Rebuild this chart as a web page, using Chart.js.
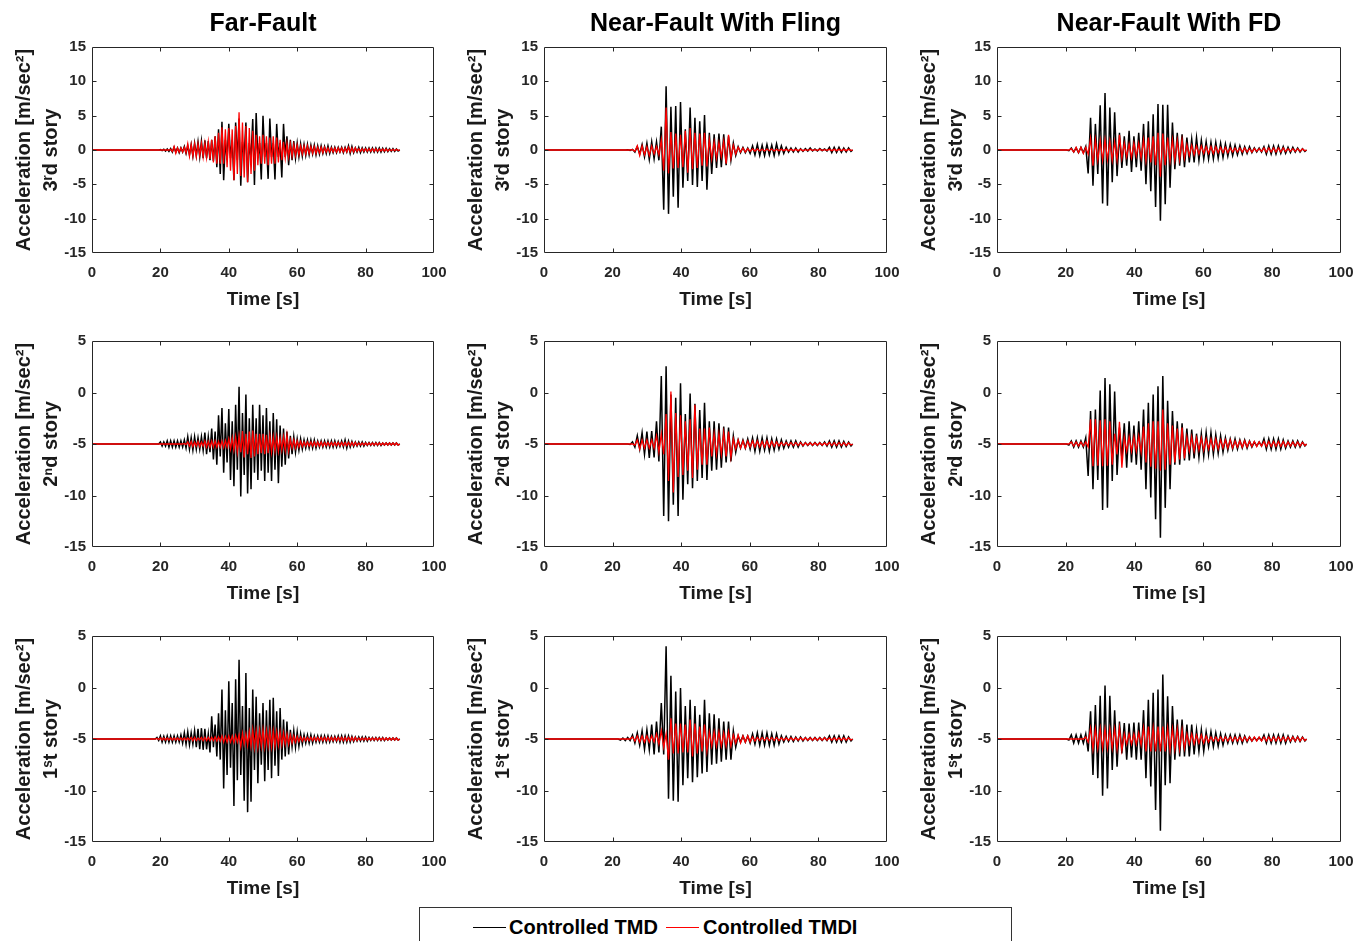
<!DOCTYPE html>
<html>
<head>
<meta charset="utf-8">
<title>Controlled TMD vs Controlled TMDI</title>
<script src="https://cdn.jsdelivr.net/npm/chart.js@4.4.1/dist/chart.umd.min.js"></script>
<style>
  html, body { margin: 0; padding: 0; background: #fff; }
  #page { position: relative; width: 1365px; height: 941px; overflow: hidden; background: #fff; }
  #page canvas { position: absolute; }
  #legend {
    position: absolute; left: 419px; top: 907px; width: 591px; height: 60px;
    border: 1px solid #333; background: #fff;
    font: bold 20px 'Liberation Sans', Arial, sans-serif; color: #000;
  }
  #legend .swatch { position: absolute; top: 19px; width: 33px; height: 0; border-top: 1px solid; }
  #legend .lbl { position: absolute; top: 7px; line-height: 24px; white-space: nowrap; }
</style>
</head>
<body>
<div id="page">
  <div id="legend">
    <span class="swatch" style="left:53px;border-color:#000"></span>
    <span class="lbl" style="left:89px">Controlled TMD</span>
    <span class="swatch" style="left:246px;border-color:#ff0000"></span>
    <span class="lbl" style="left:283px">Controlled TMDI</span>
  </div>
</div>
<script>
// time axes [s]
const farTime = [0,
  18,18.5,19,19.5,20,20.5,21,21.5,22,22.5,
  23,23.5,24,24.5,25,25.5,26,26.5,27,27.5,
  28,28.5,29,29.5,30,30.5,31,31.5,32,32.5,
  33,33.5,34,34.5,35,35.5,36,36.5,37,37.5,
  38,38.5,39,39.5,40,40.5,41,41.5,42,42.5,
  43,43.5,44,44.5,45,45.5,46,46.5,47,47.5,
  48,48.5,49,49.5,50,50.5,51,51.5,52,52.5,
  53,53.5,54,54.5,55,55.5,56,56.5,57,57.5,
  58,58.5,59,59.5,60,60.5,61,61.5,62,62.5,
  63,63.5,64,64.5,65,65.5,66,66.5,67,67.5,
  68,68.5,69,69.5,70,70.5,71,71.5,72,72.5,
  73,73.5,74,74.5,75,75.5,76,76.5,77,77.5,
  78,78.5,79,79.5,80,80.5,81,81.5,82,82.5,
  83,83.5,84,84.5,85,85.5,86,86.5,87,87.5,
  88,88.5,89,89.5,
  90];

const nearTime = [0,
  20.2,20.9,21.6,22.3,23.0,23.7,24.4,25.1,25.8,26.5,
  27.2,27.9,28.6,29.3,30.0,30.7,31.4,32.1,32.8,33.5,
  34.2,34.9,35.6,36.3,37.0,37.7,38.4,39.1,39.8,40.5,
  41.2,41.9,42.6,43.3,44.0,44.7,45.4,46.1,46.8,47.5,
  48.2,48.9,49.6,50.3,51.0,51.7,52.4,53.1,53.8,54.5,
  55.2,55.9,56.6,57.3,58.0,58.7,59.4,60.1,60.8,61.5,
  62.2,62.9,63.6,64.3,65.0,65.7,66.4,67.1,67.8,68.5,
  69.2,69.9,70.6,71.3,72.0,72.7,73.4,74.1,74.8,75.5,
  76.2,76.9,77.6,78.3,79.0,79.7,80.4,81.1,81.8,82.5,
  83.2,83.9,84.6,85.3,86.0,86.7,87.4,88.1,88.8,89.5,
  90];

// Far-Fault
const ff3Tmd = [0,
  0,0,0,0,0.05,-0.1,0.1,-0.15,0.15,-0.2,
  0.2,-0.3,0.4,-0.3,0.3,-0.4,0.3,-0.3,0.5,-0.5,
  0.6,-0.7,0.8,-0.9,1.0,-0.8,1.2,-1.0,1.3,-1.2,
  1.4,-1.2,1.3,-1.5,1.5,-1.6,2.0,-2.5,3.0,-3.5,
  4.1,-4.4,1.5,-1.5,3.8,-1.2,1.5,-4.4,4.0,-1.5,
  4.6,-5.2,1.2,-1.0,4.0,-4.7,1.0,-1.2,4.5,-5.1,
  5.4,-1.2,1.0,-4.3,5.0,-1.0,1.0,-4.2,4.6,-1.0,
  1.0,-4.3,3.8,-1.0,1.0,-4.0,3.8,-1.0,2.0,-2.2,
  1.5,-1.5,1.3,-1.2,1.0,-1.0,0.9,-0.9,0.8,-0.8,
  0.8,-0.7,0.7,-0.6,0.7,-0.7,0.6,-0.6,0.6,-0.5,
  0.5,-0.5,0.6,-0.5,0.4,-0.4,0.4,-0.4,0.4,-0.3,
  0.4,-0.4,0.4,-0.3,0.6,-0.5,0.5,-0.4,0.3,-0.3,
  0.4,-0.4,0.3,-0.3,0.3,-0.3,0.3,-0.3,0.3,-0.3,
  0.3,-0.3,0.3,-0.3,0.25,-0.25,0.25,-0.25,0.2,-0.2,
  0.2,-0.2,0.15,-0.15,
  0];
const ff3Tmdi = [0,
  0,0,0,0,0,0,0,0,0,0,
  0.1,-0.2,0.5,-0.5,0.3,-0.3,0.3,-0.3,0.4,-0.4,
  0.9,-0.9,0.8,-0.9,0.9,-1.0,0.9,-0.8,1.0,-1.0,
  1.0,-1.1,1.2,-1.3,1.5,-1.8,2.0,-2.0,2.5,-2.0,
  3.3,-2.0,3.0,-2.5,3.2,-3.0,3.0,-4.4,3.5,-3.5,
  5.5,-3.8,4.0,-4.0,3.5,-4.7,3.2,-3.5,2.8,-3.0,
  2.2,-2.2,2.0,-2.0,2.2,-2.0,2.0,-2.2,1.8,-2.0,
  2.0,-2.0,1.8,-1.8,1.5,-1.5,1.2,-1.2,1.0,-1.0,
  0.9,-0.9,0.8,-0.8,0.7,-0.7,0.6,-0.6,0.6,-0.6,
  0.6,-0.5,0.5,-0.5,0.5,-0.5,0.4,-0.4,0.4,-0.4,
  0.4,-0.3,0.3,-0.3,0.3,-0.3,0.3,-0.3,0.3,-0.3,
  0.3,-0.3,0.3,-0.3,0.4,-0.3,0.3,-0.3,0.3,-0.2,
  0.2,-0.2,0.2,-0.2,0.2,-0.2,0.2,-0.2,0.2,-0.2,
  0.2,-0.2,0.15,-0.15,0.15,-0.15,0.15,-0.15,0.1,-0.1,
  0.1,-0.1,0.1,-0.05,
  0];
const ff2Tmd = [-5,
  -5,-5,-5,-5,-4.8,-5.2,-4.8,-5.2,-4.7,-5.3,
  -4.7,-5.3,-4.7,-5.3,-4.7,-5.3,-4.7,-5.3,-4.6,-5.4,
  -4.3,-5.5,-4.4,-5.6,-4.3,-5.5,-4.4,-5.5,-4.3,-5.6,
  -3.9,-6.0,-4.3,-5.8,-3.5,-6.5,-3.8,-7.0,-2.2,-6.2,
  -1.5,-7.8,-3.0,-6.8,-1.6,-8.5,-2.8,-9.1,-1.2,-7.5,
  0.55,-10.1,-2.0,-8.0,-0.2,-9.8,-2.5,-9.4,-1.2,-7.8,
  -2.5,-8.5,-1.2,-7.6,-2.2,-8.6,-1.5,-7.8,-2.8,-8.6,
  -2.0,-7.5,-2.6,-8.8,-3.2,-7.2,-3.5,-7.0,-3.8,-6.4,
  -4.2,-6.0,-4.3,-5.8,-4.5,-5.6,-4.5,-5.5,-4.6,-5.4,
  -4.6,-5.4,-4.6,-5.4,-4.6,-5.4,-4.7,-5.3,-4.7,-5.3,
  -4.7,-5.3,-4.7,-5.3,-4.7,-5.3,-4.7,-5.3,-4.75,-5.25,
  -4.7,-5.3,-4.6,-5.4,-4.7,-5.3,-4.75,-5.25,-4.8,-5.2,
  -4.8,-5.2,-4.8,-5.2,-4.85,-5.15,-4.85,-5.15,-4.85,-5.15,
  -4.85,-5.15,-4.85,-5.15,-4.9,-5.1,-4.9,-5.1,-4.9,-5.1,
  -4.9,-5.1,-4.9,-5.1,
  -5];
const ff2Tmdi = [-5,
  -5,-5,-5,-5,-5,-5,-5,-5,-5,-5,
  -5,-5,-5,-5,-5,-5,-5,-5,-4.95,-5.05,
  -4.8,-5.2,-4.75,-5.25,-4.8,-5.2,-4.75,-5.25,-4.8,-5.2,
  -4.7,-5.3,-4.75,-5.3,-4.7,-5.3,-4.7,-5.3,-4.75,-5.3,
  -4.7,-5.35,-4.65,-5.3,-4.5,-5.5,-4.4,-5.6,-4.3,-5.8,
  -4.2,-5.8,-3.75,-6.3,-4.0,-6.0,-3.8,-6.35,-3.7,-6.2,
  -4.0,-6.0,-4.0,-5.9,-4.0,-6.0,-4.1,-5.9,-4.2,-5.8,
  -4.3,-5.7,-4.3,-5.7,-4.4,-5.6,-4.3,-5.6,-4.1,-5.7,
  -4.6,-5.4,-4.6,-5.4,-4.7,-5.3,-4.75,-5.25,-4.8,-5.2,
  -4.8,-5.2,-4.8,-5.2,-4.8,-5.2,-4.8,-5.2,-4.8,-5.2,
  -4.85,-5.15,-4.85,-5.15,-4.85,-5.15,-4.85,-5.15,-4.85,-5.15,
  -4.85,-5.15,-4.85,-5.15,-4.85,-5.15,-4.85,-5.15,-4.85,-5.15,
  -4.9,-5.1,-4.9,-5.1,-4.9,-5.1,-4.9,-5.1,-4.9,-5.1,
  -4.9,-5.1,-4.9,-5.1,-4.9,-5.1,-4.9,-5.1,-4.9,-5.1,
  -4.9,-5.1,-4.9,-5.1,
  -5];
const ff1Tmd = [-5,
  -5,-5,-4.85,-5.15,-4.7,-5.3,-4.75,-5.3,-4.7,-5.3,
  -4.7,-5.3,-4.7,-5.3,-4.7,-5.3,-4.6,-5.4,-4.4,-5.5,
  -4.3,-5.55,-4.4,-5.5,-4.2,-5.8,-4.0,-6.0,-3.95,-6.05,
  -4.0,-6.0,-4.5,-6.3,-2.8,-5.8,-3.6,-6.7,-2.5,-7.0,
  -0.2,-9.8,-2.2,-8.5,0.6,-7.8,-1.5,-11.5,0.8,-9.0,
  2.7,-8.5,-1.8,-11.0,1.4,-12.1,-2.0,-11.1,-0.2,-8.0,
  -0.9,-9.3,-2.5,-7.5,-1.5,-9.1,-2.2,-8.0,-1.2,-8.8,
  -1.0,-7.6,-2.3,-8.6,-2.0,-7.0,-3.1,-6.7,-3.3,-6.5,
  -4.1,-5.75,-4.2,-5.8,-4.3,-5.7,-4.5,-5.5,-4.6,-5.4,
  -4.6,-5.4,-4.6,-5.4,-4.7,-5.3,-4.7,-5.3,-4.7,-5.3,
  -4.7,-5.3,-4.7,-5.3,-4.75,-5.25,-4.75,-5.25,-4.7,-5.3,
  -4.7,-5.3,-4.7,-5.3,-4.7,-5.3,-4.75,-5.25,-4.8,-5.2,
  -4.8,-5.2,-4.8,-5.2,-4.8,-5.2,-4.85,-5.15,-4.85,-5.15,
  -4.85,-5.15,-4.85,-5.15,-4.85,-5.15,-4.9,-5.1,-4.9,-5.1,
  -4.9,-5.1,-4.9,-5.1,
  -5];
const ff1Tmdi = [-5,
  -5,-5,-4.95,-5.05,-4.9,-5.1,-4.9,-5.1,-4.9,-5.1,
  -4.9,-5.1,-4.9,-5.1,-4.9,-5.1,-4.9,-5.1,-4.9,-5.1,
  -4.9,-5.1,-4.85,-5.15,-4.85,-5.15,-4.9,-5.1,-4.85,-5.15,
  -4.85,-5.15,-4.85,-5.15,-4.85,-5.15,-4.8,-5.2,-4.8,-5.2,
  -4.7,-5.3,-4.75,-5.3,-4.7,-5.3,-4.7,-5.35,-4.65,-5.3,
  -4.6,-5.75,-4.45,-5.5,-4.5,-5.6,-4.3,-5.7,-4.1,-5.8,
  -4.2,-5.8,-4.15,-5.7,-4.1,-5.75,-4.2,-5.7,-4.15,-5.75,
  -4.2,-5.7,-4.3,-5.6,-4.3,-5.6,-4.4,-5.5,-4.5,-5.5,
  -4.6,-5.4,-4.7,-5.3,-4.75,-5.25,-4.8,-5.2,-4.85,-5.15,
  -4.85,-5.15,-4.85,-5.15,-4.85,-5.15,-4.85,-5.15,-4.85,-5.15,
  -4.85,-5.15,-4.85,-5.15,-4.85,-5.15,-4.85,-5.15,-4.85,-5.15,
  -4.85,-5.15,-4.85,-5.15,-4.85,-5.15,-4.85,-5.15,-4.85,-5.15,
  -4.9,-5.1,-4.9,-5.1,-4.9,-5.1,-4.9,-5.1,-4.9,-5.1,
  -4.9,-5.1,-4.9,-5.1,-4.9,-5.1,-4.9,-5.1,-4.9,-5.1,
  -4.9,-5.1,-4.9,-5.1,
  -5];

// Near-Fault With Fling
const fl3Tmd = [0,
  0,0,0,0,0,0,0.05,-0.05,0.1,-0.3,
  0.5,-0.6,0.8,-1.0,1.0,-1.4,1.2,-1.3,1.2,-1.5,
  3.4,-8.7,9.3,-9.3,6.3,-6.8,6.4,-8.4,7.0,-5.5,
  3.0,-4.5,6.2,-5.1,4.7,-5.4,4.2,-4.5,5.1,-5.8,
  2.5,-3.5,2.3,-2.6,2.4,-2.5,2.3,-2.2,2.0,-1.5,
  1.0,-0.8,0.5,-0.4,0.4,-0.4,0.3,-0.5,0.6,-0.7,
  0.8,-0.8,0.7,-0.8,0.8,-0.7,0.7,-0.8,0.9,-0.6,
  0.6,-0.5,0.4,-0.3,0.3,-0.3,0.3,-0.3,0.2,-0.2,
  0.2,-0.15,0.3,-0.15,0.15,-0.15,0.2,-0.1,0.15,-0.15,
  0.4,-0.4,0.4,-0.35,0.4,-0.35,0.3,-0.3,0.3,-0.2,
  0];
const fl3Tmdi = [0,
  0,0,0,0,0,0,0,0,0.05,-0.2,
  0.6,-0.8,0.6,-0.7,0.5,-0.8,0.6,-0.6,0.5,-0.7,
  1.5,-3.0,6.2,-3.4,2.6,-2.7,2.4,-2.6,2.2,-2.5,
  2.8,-3.3,3.2,-2.8,2.5,-2.6,2.4,-2.3,2.5,-2.4,
  1.5,-1.3,1.2,-1.2,1.1,-1.0,1.3,-2.0,2.2,-1.2,
  0.7,-0.6,0.4,-0.3,0.3,-0.3,0.2,-0.2,0.15,-0.15,
  0.15,-0.15,0.1,-0.15,0.15,-0.1,0.15,-0.15,0.1,-0.1,
  0.1,-0.1,0.1,-0.1,0.1,-0.1,0.1,-0.1,0.1,-0.1,
  0.05,-0.05,0.1,-0.05,0.05,-0.05,0.1,-0.05,0.05,-0.05,
  0.1,-0.1,0.1,-0.1,0.1,-0.1,0.1,-0.1,0.1,-0.05,
  0];
const fl2Tmd = [-5,
  -5,-5,-5,-5,-5,-5,-5,-5.05,-4.8,-5.3,
  -4.2,-5.5,-3.9,-6.0,-3.8,-6.35,-3.75,-6.3,-2.8,-6.7,
  1.6,-12.0,2.55,-12.5,-0.2,-10.9,-0.5,-12.0,0.9,-10.4,
  -2.1,-8.9,-0.1,-9.3,-1.1,-8.6,-1.7,-8.3,-1.0,-8.5,
  -2.8,-7.6,-2.8,-7.5,-3.0,-7.3,-3.3,-6.8,-3.4,-6.7,
  -4.2,-5.8,-4.6,-5.4,-4.6,-5.4,-4.5,-5.5,-4.4,-5.7,
  -4.4,-5.7,-4.4,-5.6,-4.4,-5.7,-4.5,-5.6,-4.5,-5.5,
  -4.6,-5.4,-4.7,-5.3,-4.7,-5.3,-4.7,-5.3,-4.8,-5.2,
  -4.85,-5.15,-4.85,-5.15,-4.85,-5.15,-4.85,-5.15,-4.8,-5.2,
  -4.7,-5.3,-4.7,-5.3,-4.7,-5.3,-4.75,-5.25,-4.8,-5.2,
  -5];
const fl2Tmdi = [-5,
  -5,-5,-5,-5,-5,-5,-5,-5,-5,-5.1,
  -4.6,-5.5,-4.6,-5.4,-4.6,-5.4,-4.6,-5.4,-4.2,-5.8,
  -4.0,-6.0,-2.1,-8.6,0.1,-9.7,-2.0,-8.2,-2.2,-8.0,
  -2.8,-7.6,-2.6,-8.3,-1.2,-7.5,-3.5,-7.0,-3.5,-7.0,
  -3.4,-6.2,-4.0,-6.0,-4.0,-6.0,-3.9,-6.2,-3.8,-6.3,
  -4.5,-5.5,-4.6,-5.4,-4.7,-5.4,-4.7,-5.3,-4.7,-5.3,
  -4.7,-5.3,-4.75,-5.3,-4.7,-5.3,-4.75,-5.25,-4.8,-5.2,
  -4.85,-5.15,-4.85,-5.15,-4.85,-5.15,-4.85,-5.15,-4.85,-5.15,
  -4.9,-5.1,-4.9,-5.1,-4.9,-5.1,-4.9,-5.1,-4.9,-5.1,
  -4.85,-5.15,-4.85,-5.15,-4.85,-5.15,-4.85,-5.15,-4.9,-5.1,
  -5];
const fl1Tmd = [-5,
  -5,-5,-5,-5.1,-4.9,-5.15,-4.85,-5.15,-4.6,-5.4,
  -4.4,-5.6,-4.2,-6.0,-4.1,-6.05,-3.6,-6.5,-3.3,-6.3,
  -1.5,-6.5,4.0,-10.8,1.15,-11.0,-0.4,-11.1,-0.05,-9.5,
  -1.8,-8.8,-1.2,-9.2,-1.8,-8.7,-2.65,-8.35,-1.2,-8.2,
  -2.5,-7.5,-2.6,-7.4,-3.0,-7.2,-3.3,-7.0,-3.3,-7.0,
  -4.2,-5.8,-4.7,-5.3,-4.7,-5.3,-4.7,-5.4,-4.5,-5.5,
  -4.4,-5.6,-4.4,-5.6,-4.4,-5.6,-4.5,-5.6,-4.5,-5.5,
  -4.7,-5.3,-4.75,-5.25,-4.75,-5.25,-4.8,-5.2,-4.8,-5.2,
  -4.85,-5.15,-4.85,-5.15,-4.85,-5.15,-4.85,-5.15,-4.85,-5.15,
  -4.7,-5.3,-4.7,-5.3,-4.7,-5.3,-4.7,-5.3,-4.8,-5.2,
  -5];
const fl1Tmdi = [-5,
  -5,-5,-5,-5,-5,-5,-5,-5,-4.8,-5.2,
  -4.7,-5.3,-4.7,-5.3,-4.7,-5.3,-4.7,-5.3,-4.5,-5.5,
  -4.2,-5.8,-4.5,-7.0,-3.0,-6.4,-3.5,-6.4,-3.5,-6.3,
  -3.6,-6.3,-3.1,-6.7,-3.5,-6.4,-3.8,-6.2,-3.6,-6.2,
  -4.3,-5.7,-4.3,-5.7,-4.3,-5.7,-4.4,-5.7,-4.3,-5.7,
  -4.6,-5.4,-4.6,-5.4,-4.7,-5.3,-4.7,-5.3,-4.8,-5.2,
  -4.85,-5.15,-4.85,-5.15,-4.85,-5.15,-4.85,-5.15,-4.85,-5.15,
  -4.9,-5.1,-4.9,-5.1,-4.9,-5.1,-4.9,-5.1,-4.9,-5.1,
  -4.9,-5.1,-4.9,-5.1,-4.9,-5.1,-4.9,-5.1,-4.9,-5.1,
  -4.9,-5.1,-4.9,-5.1,-4.9,-5.1,-4.9,-5.1,-4.9,-5.1,
  -5];

// Near-Fault With FD
const fd3Tmd = [0,
  0,-0.1,0.3,-0.3,0.3,-0.4,0.4,-0.4,0.5,-3.4,
  4.7,-5.2,3.8,-3.5,6.5,-7.8,8.3,-8.1,6.2,-4.7,
  5.5,-3.8,2.5,-2.6,2.0,-2.3,2.8,-3.2,2.0,-2.5,
  2.5,-3.0,3.8,-5.0,4.2,-6.0,5.2,-8.3,6.7,-10.3,
  6.6,-7.9,6.6,-5.5,4.0,-2.8,2.5,-2.3,2.3,-2.5,
  1.8,-1.8,1.6,-1.8,1.8,-1.5,1.4,-1.3,1.2,-1.3,
  1.1,-1.3,1.1,-1.2,1.0,-1.1,0.9,-0.9,0.8,-0.8,
  0.7,-0.7,0.6,-0.6,0.5,-0.5,0.5,-0.4,0.3,-0.3,
  0.3,-0.3,0.5,-0.6,0.6,-0.6,0.6,-0.6,0.6,-0.5,
  0.5,-0.5,0.4,-0.4,0.4,-0.3,0.3,-0.3,0.2,-0.2,
  0];
const fd3Tmdi = [0,
  0,0,0.2,-0.3,0.4,-0.4,0.4,-0.5,0.4,-0.6,
  1.7,-2.3,1.5,-1.5,1.4,-1.5,1.5,-1.4,1.3,-1.5,
  1.2,-1.5,2.2,-1.2,1.0,-1.0,0.9,-1.1,1.0,-0.9,
  1.0,-1.2,1.5,-1.6,1.8,-1.8,2.0,-2.2,2.5,-3.9,
  2.4,-2.2,1.8,-1.6,1.5,-1.5,1.4,-1.4,1.5,-1.2,
  0.8,-0.8,0.7,-0.7,0.6,-0.6,0.6,-0.5,0.5,-0.5,
  0.5,-0.5,0.5,-0.4,0.4,-0.4,0.4,-0.4,0.3,-0.3,
  0.3,-0.3,0.3,-0.3,0.3,-0.3,0.2,-0.3,0.2,-0.2,
  0.2,-0.2,0.3,-0.3,0.3,-0.3,0.3,-0.3,0.3,-0.3,
  0.3,-0.2,0.2,-0.2,0.2,-0.2,0.2,-0.2,0.15,-0.1,
  0];
const fd2Tmd = [-5,
  -5,-5.1,-4.7,-5.3,-4.7,-5.3,-4.7,-5.3,-4.4,-8.1,
  -1.8,-9.4,-1.65,-8.5,0.2,-11.4,1.4,-11.2,0.8,-8.6,
  0.1,-8.0,-3.4,-6.4,-3.0,-7.3,-2.8,-6.8,-3.2,-7.0,
  -2.8,-7.5,-1.65,-9.4,-1.0,-10.2,-0.2,-12.3,0.6,-14.1,
  1.6,-11.2,-0.8,-9.4,-1.8,-7.0,-2.8,-7.0,-3.0,-6.6,
  -3.5,-6.6,-3.6,-6.4,-4.0,-6.3,-4.0,-6.2,-3.9,-6.0,
  -3.9,-6.0,-4.1,-5.9,-4.2,-5.8,-4.4,-5.6,-4.5,-5.5,
  -4.5,-5.5,-4.6,-5.4,-4.6,-5.4,-4.7,-5.3,-4.8,-5.2,
  -4.8,-5.2,-4.5,-5.5,-4.5,-5.5,-4.5,-5.5,-4.5,-5.5,
  -4.6,-5.4,-4.7,-5.3,-4.7,-5.3,-4.7,-5.3,-4.8,-5.2,
  -5];
const fd2Tmdi = [-5,
  -5,-5,-4.8,-5.2,-4.8,-5.2,-4.8,-5.2,-4.8,-5.3,
  -2.6,-7.15,-2.6,-7.1,-2.7,-7.15,-2.6,-7.1,-2.8,-7.0,
  -4.0,-6.0,-2.85,-7.3,-4.3,-5.7,-4.3,-5.7,-4.3,-5.7,
  -4.2,-5.8,-3.3,-6.8,-3.0,-7.2,-2.8,-7.4,-2.8,-7.6,
  -1.65,-7.5,-3.0,-7.0,-3.2,-6.8,-3.5,-6.5,-3.4,-6.4,
  -4.3,-5.7,-4.3,-5.7,-4.4,-5.6,-4.4,-5.6,-4.5,-5.5,
  -4.5,-5.5,-4.5,-5.5,-4.6,-5.4,-4.6,-5.4,-4.6,-5.4,
  -4.7,-5.3,-4.7,-5.3,-4.7,-5.3,-4.75,-5.25,-4.75,-5.25,
  -4.8,-5.2,-4.75,-5.25,-4.75,-5.25,-4.75,-5.25,-4.75,-5.25,
  -4.75,-5.25,-4.8,-5.2,-4.8,-5.2,-4.8,-5.2,-4.85,-5.15,
  -5];
const fd1Tmd = [-5,
  -5,-5.1,-4.6,-5.4,-4.6,-5.4,-4.6,-5.4,-4.5,-6.2,
  -2.3,-8.5,-1.7,-8.8,-0.8,-10.5,0.2,-9.8,-0.8,-8.0,
  -2.2,-7.7,-3.3,-6.4,-3.45,-7.0,-3.5,-6.8,-3.4,-7.0,
  -3.4,-7.0,-2.2,-8.8,-1.2,-9.6,-0.5,-11.9,-0.2,-13.9,
  1.25,-9.5,-0.85,-9.3,-1.8,-7.0,-3.1,-6.7,-3.1,-6.7,
  -3.6,-6.7,-3.6,-6.5,-4.1,-6.2,-4.1,-6.2,-4.3,-5.75,
  -4.3,-5.75,-4.4,-5.7,-4.5,-5.6,-4.6,-5.4,-4.6,-5.4,
  -4.6,-5.4,-4.6,-5.4,-4.7,-5.3,-4.8,-5.2,-4.85,-5.15,
  -4.85,-5.15,-4.6,-5.4,-4.6,-5.4,-4.6,-5.4,-4.6,-5.4,
  -4.6,-5.4,-4.7,-5.3,-4.75,-5.25,-4.75,-5.25,-4.8,-5.2,
  -5];
const fd1Tmdi = [-5,
  -5,-5,-5,-5,-5,-5,-5,-5,-4.8,-5.3,
  -3.95,-6.0,-4.0,-5.9,-3.95,-5.9,-4.0,-5.9,-4.0,-5.9,
  -4.0,-6.0,-3.9,-6.1,-4.5,-5.5,-4.5,-5.5,-4.5,-5.5,
  -4.4,-5.6,-3.9,-6.2,-3.8,-6.2,-3.9,-6.2,-3.8,-6.2,
  -3.8,-6.2,-3.9,-6.1,-4.0,-6.0,-4.0,-6.0,-4.1,-5.9,
  -4.5,-5.5,-4.5,-5.5,-4.6,-5.4,-4.6,-5.4,-4.7,-5.3,
  -4.8,-5.2,-4.8,-5.2,-4.8,-5.2,-4.8,-5.2,-4.8,-5.2,
  -4.8,-5.2,-4.8,-5.2,-4.8,-5.2,-4.8,-5.2,-4.8,-5.2,
  -4.8,-5.2,-4.8,-5.2,-4.8,-5.2,-4.8,-5.2,-4.8,-5.2,
  -4.8,-5.2,-4.8,-5.2,-4.8,-5.2,-4.8,-5.2,-4.85,-5.15,
  -5];

const colTitles = ['Far-Fault', 'Near-Fault With Fling', 'Near-Fault With FD'];
const stories = ['3\u02B3d story', '2\u207Fd story', '1\u02E2t story'];
const xTicks = [0, 20, 40, 60, 80, 100];
const yRanges = [[-15, 15], [-15, 5], [-15, 5]];

const panels = [
  [farTime, [[ff3Tmd, ff3Tmdi], [ff2Tmd, ff2Tmdi], [ff1Tmd, ff1Tmdi]]],
  [nearTime, [[fl3Tmd, fl3Tmdi], [fl2Tmd, fl2Tmdi], [fl1Tmd, fl1Tmdi]]],
  [nearTime, [[fd3Tmd, fd3Tmdi], [fd2Tmd, fd2Tmdi], [fd1Tmd, fd1Tmdi]]]
];

// page placement of each small chart
const colLeft = [0, 452, 905];
const plotW = [342, 343, 344];
const rowTop = [0, 294, 589];
const canvasW = 460, canvasH = 312;

const sans = "'Liberation Sans', Arial, sans-serif";
const tickFont = { family: sans, size: 15, weight: 'bold' };
const axisColor = '#262626';

// MATLAB-like box with inward ticks on all four sides
const boxTicks = {
  id: 'boxTicks',
  afterDraw(chart) {
    const { ctx, chartArea: a, scales: { x, y } } = chart;
    const len = 4;
    const l = Math.round(a.left) + 0.5, r = Math.round(a.right) - 0.5;
    const t = Math.round(a.top) + 0.5, b = Math.round(a.bottom) - 0.5;
    ctx.save();
    ctx.strokeStyle = axisColor;
    ctx.lineWidth = 1;
    ctx.beginPath();
    ctx.rect(l, t, r - l, b - t);
    x.ticks.forEach(tk => {
      if (tk.value <= x.min || tk.value >= x.max) return;
      const px = Math.round(x.getPixelForValue(tk.value)) + 0.5;
      ctx.moveTo(px, b); ctx.lineTo(px, b - len);
      ctx.moveTo(px, t); ctx.lineTo(px, t + len);
    });
    y.ticks.forEach(tk => {
      if (tk.value <= y.min || tk.value >= y.max) return;
      const py = Math.round(y.getPixelForValue(tk.value)) + 0.5;
      ctx.moveTo(l, py); ctx.lineTo(l + len, py);
      ctx.moveTo(r, py); ctx.lineTo(r - len, py);
    });
    ctx.stroke();
    ctx.restore();
  }
};

const toPoints = (time, vals) => time.map((t, i) => ({ x: t, y: vals[i] }));

const page = document.getElementById('page');
panels.forEach(([time, rows], col) => {
  rows.forEach(([tmd, tmdi], row) => {
    const canvas = document.createElement('canvas');
    canvas.width = canvasW;
    canvas.height = canvasH;
    canvas.style.left = colLeft[col] + 'px';
    canvas.style.top = rowTop[row] + 'px';
    page.appendChild(canvas);

    new Chart(canvas.getContext('2d'), {
      type: 'line',
      data: {
        datasets: [
          { label: 'Controlled TMD', data: toPoints(time, tmd), borderColor: '#000000',
            borderWidth: 1.5, pointRadius: 0, tension: 0, order: 2 },
          { label: 'Controlled TMDI', data: toPoints(time, tmdi), borderColor: '#ff0000',
            borderWidth: 1.3, pointRadius: 0, tension: 0, order: 1 }
        ]
      },
      options: {
        responsive: false,
        animation: false,
        devicePixelRatio: 1,
        events: [],
        layout: { padding: { left: 0, right: canvasW - 92 - plotW[col], top: row === 0 ? 0 : 47, bottom: 0 } },
        plugins: {
          legend: { display: false },
          tooltip: { enabled: false },
          title: {
            display: row === 0,
            text: colTitles[col],
            color: '#000',
            fullSize: false,
            font: { family: sans, size: 25, weight: 'bold', lineHeight: 1.2 },
            padding: { top: 9, bottom: 8 }
          }
        },
        scales: {
          x: {
            type: 'linear',
            min: 0, max: 100,
            afterBuildTicks: s => { s.ticks = xTicks.map(v => ({ value: v })); },
            ticks: { color: axisColor, font: tickFont, padding: 11, maxRotation: 0, autoSkip: false },
            grid: { display: false, drawTicks: false },
            border: { display: false },
            title: { display: true, text: 'Time [s]', color: '#1a1a1a',
              font: { family: sans, size: 19, weight: 'bold', lineHeight: 1.2 }, padding: { top: 0, bottom: 1 } },
            afterFit: s => { s.height = 59; }
          },
          y: {
            type: 'linear',
            min: yRanges[row][0], max: yRanges[row][1],
            ticks: { stepSize: 5, color: axisColor, font: tickFont, padding: 6, autoSkip: false },
            grid: { display: false, drawTicks: false },
            border: { display: false },
            title: { display: true, text: ['Acceleration [m/sec\u00B2]', stories[row]], color: '#1a1a1a',
              font: { family: sans, size: 20, weight: 'bold', lineHeight: 1.35 }, padding: { top: 11, bottom: 0 } },
            afterFit: s => { s.width = 92; }
          }
        }
      },
      plugins: [boxTicks]
    });
  });
});
</script>
</body>
</html>
